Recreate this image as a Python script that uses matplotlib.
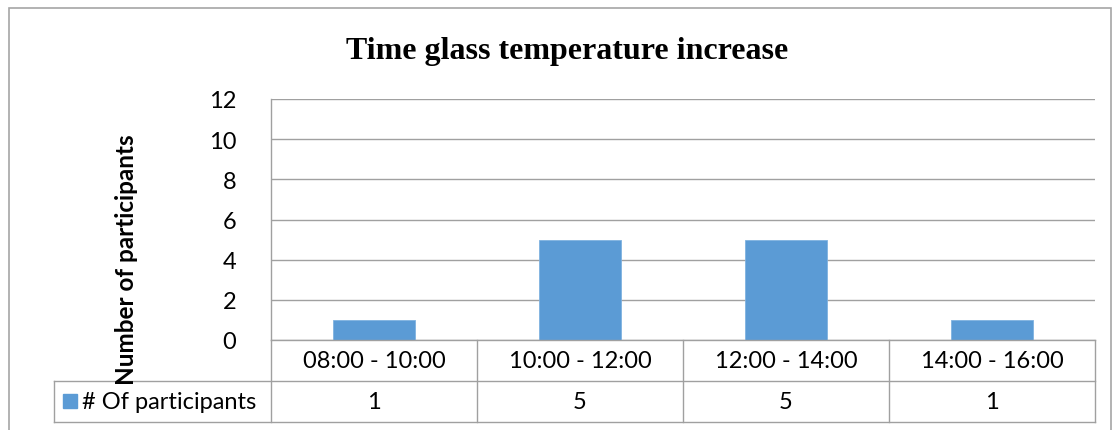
import matplotlib
matplotlib.use("Agg")
import matplotlib.pyplot as plt
from matplotlib.patches import Rectangle
from matplotlib.lines import Line2D

# chart data
slots = ["08:00 - 10:00", "10:00 - 12:00", "12:00 - 14:00", "14:00 - 16:00"]
participants = [1, 5, 5, 1]
series_name = "# Of participants"
y_ticks = [0, 2, 4, 6, 8, 10, 12]

W, H = 1114, 431
BAR = "#5B9BD5"
GRID = "#A0A0A0"
FONT = "Lato"
FS = 17

fig = plt.figure(figsize=(W / 100, H / 100), dpi=100)


def fx(x):
    return x / W


def fy(y):
    return 1 - y / H


# plot area in pixels
left, right, top, bottom = 271, 1095, 100, 341
row_h = 41

ax = fig.add_axes([fx(left), fy(bottom), fx(right - left), (bottom - top) / H])
ax.bar(range(len(slots)), participants, width=0.4, color=BAR,
       edgecolor="#7FB2E0", linewidth=0.6, zorder=3)
ax.set_xlim(-0.5, len(slots) - 0.5)
ax.set_ylim(0, 12)
ax.set_yticks(y_ticks)
ax.set_yticklabels([str(t) for t in y_ticks], fontsize=FS, fontfamily=FONT)
ax.tick_params(axis="y", length=0, pad=25)
ax.set_xticks([])
ax.grid(axis="y", color=GRID, linewidth=1.0, zorder=0)
for side in ["top", "right", "bottom"]:
    ax.spines[side].set_visible(False)
ax.spines["left"].set_color(GRID)
ax.spines["left"].set_linewidth(1.0)

# outer chart border
fig.add_artist(Rectangle((fx(9), fy(440)), fx(1111 - 9), (440 - 9) / H,
                         transform=fig.transFigure, fill=False,
                         edgecolor="#A6A6A6", linewidth=1.2))

# title and axis label
fig.text(fx(567), fy(52), "Time glass temperature increase",
         ha="center", va="center", fontsize=23, fontweight="bold",
         fontfamily="Liberation Serif")
fig.text(fx(126), fy(260), "Number of participants", rotation=90,
         ha="center", va="center", fontsize=17.5, fontweight="bold",
         fontfamily=FONT)

# data table under the axis
def hline(x0, x1, y):
    fig.add_artist(Line2D([fx(x0), fx(x1)], [fy(y), fy(y)], color=GRID,
                          linewidth=1.0, transform=fig.transFigure))


def vline(x, y0, y1):
    fig.add_artist(Line2D([fx(x), fx(x)], [fy(y0), fy(y1)], color=GRID,
                          linewidth=1.0, transform=fig.transFigure))


r1, r2 = bottom + row_h, bottom + 2 * row_h
col_w = (right - left) / len(slots)
hline(left, right, bottom)
hline(54, right, r1)
hline(54, right, r2)
vline(left, bottom, r2)
vline(54, r1, r2)
for i, (slot, val) in enumerate(zip(slots, participants)):
    x0 = left + i * col_w
    vline(x0 + col_w, bottom, r2)
    fig.text(fx(x0 + col_w / 2), fy(bottom + row_h / 2), slot,
             ha="center", va="center", fontsize=FS, fontfamily=FONT)
    fig.text(fx(x0 + col_w / 2), fy(r1 + row_h / 2), str(val),
             ha="center", va="center", fontsize=FS, fontfamily=FONT)

fig.add_artist(Rectangle((fx(63), fy(409)), fx(14), 14 / H,
                         transform=fig.transFigure, color=BAR))
fig.text(fx(82), fy(r1 + row_h / 2), series_name, ha="left", va="center",
         fontsize=FS, fontfamily=FONT)

fig.savefig("out.png", dpi=100)
